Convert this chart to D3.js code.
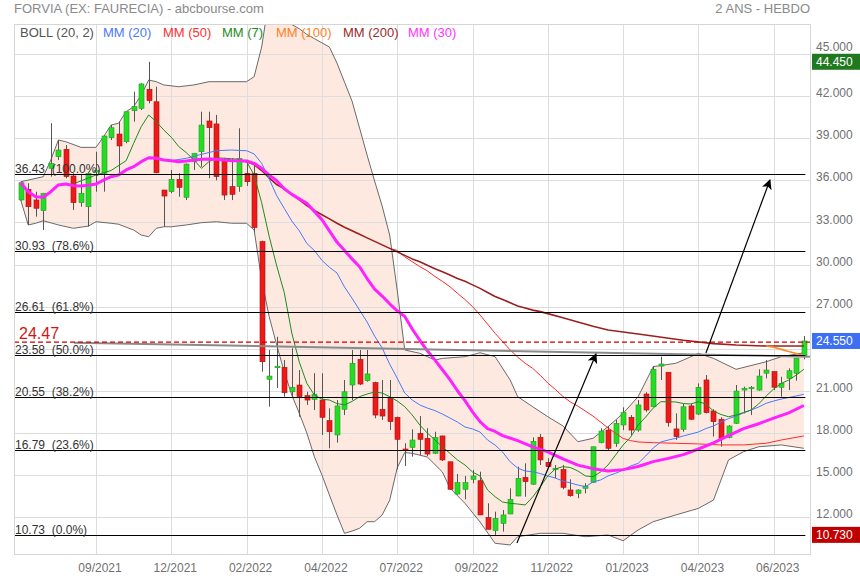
<!DOCTYPE html>
<html><head><meta charset="utf-8">
<script src="https://cdn.jsdelivr.net/npm/d3@7"></script>
<style>
body{margin:0;background:#fff;}
svg{display:block;font-family:"Liberation Sans",Arial,Helvetica,sans-serif;}
</style></head><body>
<svg id="chart" width="860" height="580"></svg>
<script>
// ---------- DATA (weekly candles, index 0..104) ----------
const opens  = [34.60,35.36,34.60,33.84,36.86,37.68,38.21,36.31,34.41,34.12,36.60,36.50,39.04,39.30,38.75,40.96,41.13,42.49,41.60,35.31,35.19,36.07,34.79,37.33,38.04,40.23,40.02,37.40,35.55,35.55,36.50,36.50,31.63,21.82,22.68,22.67,20.93,21.41,20.65,20.39,20.34,18.87,17.85,19.68,21.41,23.24,21.72,21.58,19.68,20.46,19.11,16.85,16.97,17.97,17.61,16.54,17.78,15.94,13.64,13.98,14.69,14.59,11.98,11.03,11.55,12.22,13.50,14.83,14.34,17.68,15.90,15.45,15.40,13.93,13.69,14.05,14.48,17.30,18.20,17.25,18.56,19.11,18.20,20.77,19.86,22.76,22.32,18.28,18.25,19.92,19.34,21.77,19.56,18.97,17.68,18.68,21.05,21.18,21.05,22.25,22.36,21.25,21.89,22.25,23.48];
const highs  = [35.90,35.79,35.19,35.10,40.07,38.87,38.52,36.50,36.38,36.55,38.04,39.20,39.94,40.18,40.90,42.32,42.92,44.45,42.67,35.31,36.74,36.50,37.20,37.95,40.89,40.89,40.66,37.60,37.57,39.71,37.45,37.09,31.70,23.91,24.85,23.19,24.03,22.48,20.93,22.25,22.25,19.75,20.34,21.77,23.91,23.91,23.91,21.65,21.77,21.77,19.15,17.26,18.25,19.20,18.33,18.08,17.80,15.95,15.07,14.93,15.35,15.23,12.98,12.38,12.50,14.05,15.59,15.83,17.68,17.92,16.19,15.71,15.71,14.69,13.98,14.41,17.01,18.33,18.49,18.92,19.82,19.27,20.34,20.90,22.76,23.43,22.32,19.39,20.06,20.06,21.53,22.12,19.68,19.11,18.56,21.41,21.29,21.34,22.53,23.19,22.40,22.00,22.60,23.35,24.90];
const lows   = [34.55,32.82,33.41,32.46,36.26,37.45,36.15,33.89,34.12,32.70,35.19,35.19,38.87,36.50,38.64,40.18,41.01,41.49,36.50,32.70,35.08,34.83,34.60,36.74,36.97,36.15,36.00,34.60,34.60,35.19,35.60,32.32,22.36,19.87,21.20,20.58,20.58,19.15,19.99,19.63,17.85,16.90,17.30,19.27,20.34,21.41,21.65,19.04,18.92,18.20,15.40,15.64,16.30,16.42,16.35,16.49,16.00,13.95,13.60,13.26,14.41,12.15,11.13,10.73,10.96,12.20,13.48,13.45,14.30,15.71,15.55,14.76,13.98,13.45,13.34,13.69,14.45,17.25,16.78,17.01,18.20,17.85,18.08,19.50,19.82,21.77,18.44,17.49,18.08,18.92,19.27,19.39,17.73,17.01,17.61,18.63,19.39,19.27,21.00,21.89,21.05,20.58,21.05,21.72,23.24];
const closes = [35.83,34.12,34.01,35.08,37.21,38.16,36.26,34.41,35.08,36.50,36.70,39.16,39.75,38.45,40.89,41.25,42.87,41.68,36.54,34.88,36.07,35.50,37.16,37.93,39.94,39.75,36.26,34.95,35.00,37.57,35.90,32.64,23.07,22.05,22.75,20.86,21.25,20.58,20.34,20.75,19.11,18.08,19.92,20.93,22.96,21.48,22.20,19.27,19.20,18.80,17.54,16.80,17.49,17.54,16.49,17.68,16.07,13.98,14.45,14.45,14.93,12.15,11.13,11.91,12.15,13.26,14.76,14.52,17.40,16.07,15.59,15.48,14.12,13.52,13.93,14.21,17.01,18.13,16.90,18.68,19.44,18.20,19.99,19.63,22.53,22.91,18.73,17.73,19.86,18.97,21.25,19.44,18.80,17.61,18.49,20.98,21.18,21.25,22.05,22.48,21.25,21.53,22.43,23.32,24.55];

// Bollinger (20,2) bands, read at [week index, value]
const bollUpper = [[0,35.90],[3,36.26],[4,37.45],[5,38.87],[6,38.75],[8,38.35],[10,38.35],[11,39.11],[12,39.94],[13,40.07],[14,40.89],[15,41.25],[16,42.08],[17,43.15],[18,43.03],[19,42.80],[21,42.67],[23,42.80],[25,43.03],[30,43.03],[31,43.39],[32,45.5],[33,49.0],[34,50.5],[35,49.5],[36,47.1],[37,46.8],[38,46.4],[39,46.1],[40,45.8],[41,45.5],[42,44.36],[43,43.0],[44,41.65],[45,39.73],[46,37.8],[47,35.95],[48,34.17],[49,32.1],[50,28.18],[51,23.91],[53,23.67],[55,23.19],[56,23.31],[59,23.43],[61,23.71],[63,23.43],[65,21.77],[66,20.58],[68,19.86],[70,19.15],[72,18.5],[74,17.37],[76,17.61],[78,18.44],[80,19.39],[82,20.58],[84,22.72],[87,22.96],[88,23.19],[90,23.67],[92,23.31],[95,22.53],[99,23.07],[101,23.43],[104,23.71]];
const bollLower = [[0,34.60],[1,32.82],[2,32.94],[3,33.12],[5,32.82],[7,32.58],[9,32.74],[10,33.05],[12,32.94],[13,32.87],[15,32.46],[16,32.10],[17,31.98],[18,32.58],[19,32.69],[20,32.69],[22,32.82],[24,32.98],[26,33.05],[28,32.94],[30,32.94],[31,32.46],[32,28.9],[33,26.28],[34,24.26],[35,22.34],[36,20.70],[37,19.39],[38,17.99],[39,16.30],[40,15.00],[41,13.57],[42,12.15],[43,10.84],[44,11.0],[45,11.20],[46,11.67],[47,11.67],[48,12.15],[49,13.2],[50,15.5],[51,16.6],[52,16.54],[54,16.28],[56,15.21],[57,14.07],[59,12.98],[61,11.65],[63,10.13],[65,10.01],[66,10.60],[69,10.84],[72,10.84],[75,10.60],[78,10.72],[80,10.31],[82,11.08],[84,11.67],[87,12.15],[90,12.62],[92,13.21],[94,16.07],[96,16.66],[98,17.01],[101,17.14],[104,16.90]];

// Moving averages, read at [week index, value]
const mm7 = [[7,35.75],[10,36.38],[12,36.70],[14,37.40],[15,38.64],[16,39.82],[17,40.66],[18,40.18],[19,39.59],[20,39.07],[21,38.40],[22,37.97],[23,37.45],[24,36.86],[25,37.33],[26,37.61],[28,37.54],[29,37.50],[30,37.33],[31,36.38],[32,34.40],[33,32.0],[34,29.9],[35,28.0],[36,25.12],[37,23.04],[38,21.53],[39,20.7],[40,20.4],[41,20.34],[42,20.09],[43,19.99],[44,20.24],[45,20.58],[46,20.77],[47,20.91],[48,20.84],[49,20.58],[50,20.27],[51,19.87],[52,19.27],[53,18.56],[54,17.99],[56,17.01],[58,16.07],[59,15.71],[60,15.21],[61,14.93],[62,13.93],[63,13.45],[64,13.07],[65,12.98],[66,12.93],[67,12.86],[68,13.43],[69,14.16],[70,14.93],[71,15.43],[72,15.59],[73,15.53],[74,15.28],[75,14.93],[76,14.88],[77,15.21],[78,15.71],[79,16.42],[80,17.13],[81,17.70],[82,18.56],[83,19.13],[84,19.77],[85,20.22],[86,20.22],[87,20.20],[88,20.09],[89,20.06],[90,20.22],[91,20.06],[92,19.56],[93,19.31],[94,19.15],[95,19.27],[96,19.45],[97,19.63],[98,20.06],[99,20.63],[100,21.13],[101,21.52],[102,21.77],[103,22.12],[104,22.53]];
const mm20 = [[19,37.45],[20,37.40],[22,37.57],[24,37.85],[26,38.11],[28,38.16],[30,38.11],[31,37.88],[32,37.21],[33,36.10],[34,34.9],[35,34.0],[36,33.1],[37,32.4],[38,31.5],[39,31.0],[40,30.3],[41,29.8],[42,29.4],[43,28.4],[44,27.6],[45,26.75],[46,25.9],[47,24.9],[48,24.05],[49,22.9],[50,21.9],[51,20.84],[52,20.34],[53,19.99],[54,19.77],[55,19.59],[56,19.34],[57,19.06],[58,18.77],[59,18.42],[60,18.28],[61,18.06],[62,17.49],[63,17.13],[64,16.63],[65,15.94],[66,15.49],[67,15.28],[68,15.23],[69,15.10],[70,14.93],[71,14.78],[72,14.57],[73,14.43],[74,14.28],[75,14.16],[76,14.5],[77,14.64],[78,14.93],[79,15.12],[80,15.35],[81,15.64],[82,15.83],[83,16.35],[84,16.92],[85,17.35],[86,17.49],[87,17.61],[88,17.78],[89,17.92],[90,18.06],[91,18.31],[92,18.49],[93,18.77],[94,19.02],[95,19.20],[96,19.42],[97,19.63],[98,19.84],[99,20.11],[100,20.27],[101,20.41],[102,20.52],[103,20.63],[104,20.75]];
const mm30 = [[0,35.83],[1,35.19],[2,34.83],[3,34.79],[4,35.19],[5,35.67],[6,35.74],[7,35.62],[8,35.60],[9,35.65],[10,35.74],[11,36.02],[12,36.26],[13,36.38],[14,36.74],[15,36.97],[16,37.33],[17,37.61],[18,37.57],[19,37.45],[20,37.40],[21,37.33],[22,37.38],[23,37.45],[24,37.50],[25,37.52],[26,37.50],[27,37.45],[28,37.40],[29,37.40],[30,37.38],[31,37.21],[32,36.86],[33,36.38],[34,35.97],[35,35.4],[36,35.0],[38,34.36],[40,33.2],[42,31.6],[44,30.4],[45,29.84],[46,29.0],[47,28.25],[48,27.75],[49,27.2],[50,26.7],[51,26.3],[52,25.4],[53,24.6],[54,23.85],[55,23.2],[56,22.5],[57,21.8],[58,21.0],[59,20.3],[60,19.5],[61,18.8],[62,18.3],[63,18.1],[64,17.8],[66,17.45],[68,17.0],[70,16.65],[72,16.15],[74,15.7],[76,15.45],[78,15.28],[80,15.38],[82,15.6],[84,15.95],[86,16.18],[88,16.45],[90,16.85],[92,17.28],[94,17.8],[96,18.3],[98,18.65],[100,19.05],[102,19.42],[104,19.95]];
const mm50 = [[49,31.15],[50,31.0],[51,30.55],[52,30.2],[53,29.85],[54,29.55],[55,29.15],[56,28.8],[57,28.42],[58,27.95],[59,27.5],[60,27.0],[61,26.4],[62,25.75],[63,25.1],[64,24.5],[65,23.91],[66,23.4],[67,22.96],[68,22.6],[69,22.1],[70,21.55],[71,21.1],[72,20.6],[73,20.2],[74,19.9],[76,19.2],[78,18.35],[80,17.6],[81,17.45],[82,17.35],[84,17.30],[87,17.26],[90,17.21],[93,17.14],[96,17.14],[99,17.26],[101,17.49],[104,17.78]];
const mm100 = [[99,24.19],[100,24.1],[101,23.95],[102,23.8],[103,23.65],[104,23.5]];
const mm200 = [[29,37.40],[30,37.33],[31,37.12],[32,36.7],[33,36.17],[34,35.7],[35,35.4],[36,35.0],[37,34.6],[38,34.2],[39,33.85],[40,33.55],[41,33.25],[42,32.94],[43,32.65],[44,32.4],[45,32.15],[46,31.9],[47,31.65],[48,31.4],[49,31.15],[50,30.9],[51,30.65],[52,30.4],[53,30.2],[54,29.95],[55,29.7],[56,29.49],[57,29.25],[58,29.0],[59,28.8],[60,28.55],[61,28.3],[62,28.0],[63,27.72],[64,27.5],[65,27.28],[66,27.05],[67,26.9],[68,26.75],[69,26.64],[70,26.5],[72,26.2],[74,25.9],[76,25.6],[78,25.33],[82,25.05],[88,24.6],[92,24.36],[95,24.26],[99,24.19],[104,24.19]];

// Fibonacci retracement levels
const fibValues = [36.43, 30.93, 26.61, 23.58, 20.55, 16.79, 10.73];
const fibLabels = ["100.0%", "78.6%", "61.8%", "50.0%", "38.2%", "23.6%", "0.0%"];
const refLevel = 24.47;
const trendLine = [[7.08, 24.43], [104.82, 23.43]];
const arrows = [[[65.9, 10.15], [76.4, 23.62]], [[91.0, 23.69], [99.5, 36.02]]];

// axis ticks
const xTickIdx = [10, 20, 30, 40, 50, 60, 70, 80, 90, 100];
const xTickLabels = ["09/2021","12/2021","02/2022","04/2022","07/2022","09/2022","11/2022","01/2023","04/2023","06/2023"];
const yGrid = [12, 15, 18, 21, 24, 27, 30, 33, 36, 39, 42, 45];
const yTickLabels = [12, 15, 18, 21, 27, 30, 33, 36, 39, 42, 45];
const priceTags = [[44.45, "44.450", "#1f7a1f"], [24.55, "24.550", "#3d6ff2"], [10.73, "10.730", "#c00000"]];

const legendItems = [["BOLL (20, 2)","#555555"],["MM (20)","#4a78ff"],["MM (50)","#ff3030"],["MM (7)","#1d8c1d"],["MM (100)","#ff7f1f"],["MM (200)","#9a2a2a"],["MM (30)","#ff33ff"]];
const legendX = [20, 103, 163, 222, 276, 343, 408];

// ---------- LAYOUT ----------
const P = {left: 14, right: 810, top: 24, bottom: 554};
const svg = d3.select("#chart");
const x = d3.scaleLinear().domain([-0.89, 104.82]).range([P.left, P.right]);
const y = d3.scaleLinear().domain([48.853 - P.bottom/14.03, 48.853 - P.top/14.03]).range([P.bottom, P.top]);

svg.append("rect").attr("width",860).attr("height",580).attr("fill","#fff");
svg.append("defs").append("clipPath").attr("id","clip")
  .append("rect").attr("x",P.left).attr("y",P.top).attr("width",P.right-P.left).attr("height",P.bottom-P.top);
svg.select("defs").append("marker").attr("id","ah").attr("viewBox","0 0 10 10")
  .attr("refX",9).attr("refY",5).attr("markerWidth",10).attr("markerHeight",10)
  .attr("markerUnits","userSpaceOnUse").attr("orient","auto")
  .append("path").attr("d","M0,0 L10,5 L0,10 L2.5,5 Z").attr("fill","#000");

const g = svg.append("g").attr("clip-path","url(#clip)");
const line = d3.line().x(d => x(d[0])).y(d => y(d[1]));

// Bollinger fill
const bandPoly = bollUpper.concat(bollLower.slice().reverse());
g.append("path").attr("d", line(bandPoly) + "Z").attr("fill", "#fde9df").attr("stroke","none");

// grid
g.selectAll(".vg").data(xTickIdx).join("line")
  .attr("x1", d => Math.round(x(d))+0.5).attr("x2", d => Math.round(x(d))+0.5)
  .attr("y1", P.top).attr("y2", P.bottom).attr("stroke","#dddddd").attr("stroke-width",1);
g.selectAll(".hg").data(yGrid).join("line")
  .attr("x1", P.left).attr("x2", P.right)
  .attr("y1", d => Math.round(y(d))+0.5).attr("y2", d => Math.round(y(d))+0.5)
  .attr("stroke","#dddddd").attr("stroke-width",1);

// band lines
[bollUpper, bollLower].forEach(b => g.append("path").attr("d", line(b))
  .attr("fill","none").attr("stroke","#6a6a6a").attr("stroke-width",1));

// candles
const idx = d3.range(closes.length);
const cw = 5;
g.selectAll(".wick").data(idx).join("line")
  .attr("x1", i => Math.round(x(i))+0.5).attr("x2", i => Math.round(x(i))+0.5)
  .attr("y1", i => y(highs[i])).attr("y2", i => y(lows[i]))
  .attr("stroke","#555").attr("stroke-width",1);
g.selectAll(".body").data(idx).join("rect")
  .attr("x", i => Math.round(x(i)) - 2)
  .attr("y", i => y(Math.max(opens[i], closes[i])))
  .attr("width", cw)
  .attr("height", i => Math.max(1.5, Math.abs(y(opens[i]) - y(closes[i]))))
  .attr("fill", i => closes[i] >= opens[i] ? "#22dd22" : "#ee1a1a")
  .attr("stroke", i => closes[i] >= opens[i] ? "#2a9a2a" : "#a81010")
  .attr("stroke-width", 0.6);

// moving averages
const maDefs = [[mm50,"#ff2a2a",1],[mm200,"#9a2020",1.6],[mm100,"#ff8a1f",1.6],[mm20,"#4a78ff",1],[mm7,"#1d8c1d",1],[mm30,"#ff22ff",3]];
maDefs.forEach(([d,c,w]) => g.append("path").attr("d", line(d)).attr("fill","none")
  .attr("stroke",c).attr("stroke-width",w).attr("stroke-linejoin","round"));

// trend line
g.append("path").attr("d", line(trendLine)).attr("stroke","#8a8a8a").attr("stroke-width",2).attr("fill","none");

// reference dashed level
g.append("line").attr("x1",P.left).attr("x2",P.right).attr("y1",y(refLevel)).attr("y2",y(refLevel))
  .attr("stroke","#cc0000").attr("stroke-width",1.2).attr("stroke-dasharray","5,3");

// fibonacci
g.selectAll(".fib").data(fibValues).join("line")
  .attr("x1",P.left).attr("x2",x(104.2))
  .attr("y1", d => Math.round(y(d))+0.5).attr("y2", d => Math.round(y(d))+0.5)
  .attr("stroke","#000").attr("stroke-width",1.2);
svg.selectAll(".fibt").data(fibValues).join("text")
  .attr("x",15).attr("y", d => Math.round(y(d)) - 1.5)
  .attr("font-size",12).attr("fill","#333").attr("xml:space","preserve").style("white-space","pre")
  .text((d,i) => d.toFixed(2) + "  (" + fibLabels[i] + ")");
svg.append("text").attr("x",19).attr("y", y(refLevel) - 3).attr("font-size",16).attr("fill","#d01515").text(refLevel.toFixed(2));

// arrows
arrows.forEach(a => g.append("path").attr("d", line(a)).attr("stroke","#000").attr("stroke-width",1.2)
  .attr("fill","none").attr("marker-end","url(#ah)"));

// plot border
svg.append("rect").attr("x",P.left+0.5).attr("y",P.top+0.5).attr("width",P.right-P.left).attr("height",P.bottom-P.top)
  .attr("fill","none").attr("stroke","#d6d6d6");

// legend
svg.selectAll(".leg").data(legendItems).join("text")
  .attr("x",(d,i)=>legendX[i]).attr("y",37).attr("font-size",13).attr("fill",d=>d[1]).text(d=>d[0]);

// titles
svg.append("text").attr("x",14).attr("y",13).attr("font-size",13).attr("fill","#8a8a8a").text("FORVIA (EX: FAURECIA) - abcbourse.com");
svg.append("text").attr("x",810).attr("y",13).attr("font-size",13).attr("fill","#8a8a8a").attr("text-anchor","end").text("2 ANS - HEBDO");

// right axis
const yAxis = d3.axisRight(y).tickValues(yTickLabels).tickSize(0).tickPadding(6).tickFormat(d3.format(".3f"));
const ya = svg.append("g").attr("transform",`translate(${P.right},0)`).call(yAxis);
ya.select(".domain").remove();
ya.selectAll("text").attr("font-size",12).attr("fill","#707070")
  .attr("dy", d => d === 45 ? "-0.3em" : "0.05em").attr("font-family","Liberation Sans, Arial, sans-serif");

// x axis
const xAxis = d3.axisBottom(x).tickValues(xTickIdx).tickSize(0).tickPadding(9).tickFormat((d,i)=>xTickLabels[i]);
const xa = svg.append("g").attr("transform",`translate(0,${P.bottom})`).call(xAxis);
xa.select(".domain").remove();
xa.selectAll("text").attr("font-size",12).attr("fill","#707070").attr("x",3.5).attr("font-family","Liberation Sans, Arial, sans-serif");

// price tags
const tags = svg.selectAll(".tag").data(priceTags).join("g").attr("transform", d => `translate(812,${y(d[0])})`);
tags.append("rect").attr("x",0).attr("y",-8).attr("width",48).attr("height",16).attr("fill",d=>d[2]);
tags.append("text").attr("x",4).attr("y",4.5).attr("font-size",12).attr("fill","#fff").text(d=>d[1]);
</script>
</body></html>
